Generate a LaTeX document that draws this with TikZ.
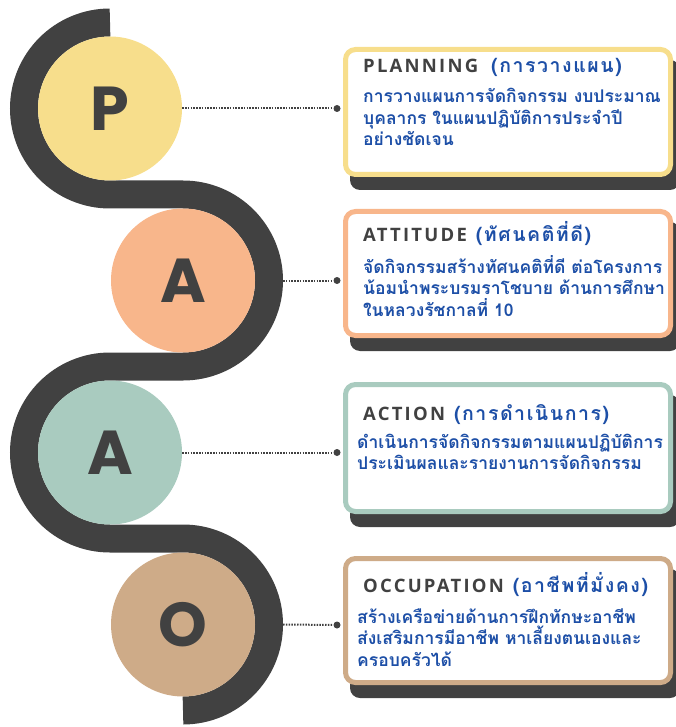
\documentclass[tikz,border=0pt]{standalone}
\usepackage{fontspec}
\newfontfamily\thaifont[Script=Thai]{Loma}
\newfontfamily\titlefont[LetterSpace=12]{Open Sans}
\newfontfamily\thaititle[Script=Thai,LetterSpace=8]{Loma}
\newfontfamily\letterfont{Poppins}
\definecolor{snakegray}{HTML}{414141}
\definecolor{colP}{HTML}{F7DE8C}
\definecolor{colA}{HTML}{F8B68B}
\definecolor{colB}{HTML}{A9CBBF}
\definecolor{colO}{HTML}{CEAB88}
\definecolor{thblue}{HTML}{1D4FA7}
\newcommand{\bodylines}[1]{\vtop{\halign{##\hfil\cr#1\crcr}}}
\newcommand{\thtitle}[1]{{\thaititle\bfseries\fontsize{19.5}{20}\selectfont\color{thblue}#1}}
\tikzset{
  snakeband/.style={draw=snakegray,line width=28pt,line cap=butt},
  bigcircle/.style={circle,inner sep=0pt,minimum size=144pt,text=snakegray,font=\letterfont\bfseries\fontsize{62}{62}\selectfont},
  dotline/.style={draw=snakegray,line width=2pt,dash pattern=on 1.5pt off 1.3pt},
  enddot/.style={circle,fill=snakegray,inner sep=0pt,minimum size=7pt},
  boxshadow/.style={fill=snakegray,rounded corners=10pt},
  infobox/.style={fill=white,line width=5pt,rounded corners=10pt},
  titletext/.style={anchor=base west,inner sep=0pt,text=snakegray,font=\titlefont\bfseries\fontsize{18.5}{20}\selectfont},
  bodytext/.style={anchor=base west,inner sep=0pt,text=thblue,font=\thaifont\bfseries\fontsize{17.5}{21.5}\selectfont}
}
\begin{document}
\begin{tikzpicture}[x=1pt,y=1pt]
\useasboundingbox (0,0) rectangle (675,-727);
% snake
\draw[snakeband] (110,-22.5) arc[start angle=90,end angle=270,radius=86]
  -- (183,-194.5) arc[start angle=90,end angle=-90,radius=86]
  -- (110,-366.5) arc[start angle=90,end angle=270,radius=86]
  -- (183,-538.5) arc[start angle=90,end angle=-90,radius=86];
% circles
\node[bigcircle,fill=colP] (cP) at (110,-108.5) {P};
\node[bigcircle,fill=colA] (cA) at (183,-280.5) {A};
\node[bigcircle,fill=colB] (cB) at (110,-452.5) {A};
\node[bigcircle,fill=colO] (cO) at (183,-624.5) {O};
\coordinate (eA) at (283,-280.5);
\coordinate (eO) at (283,-624.5);
% boxes
\foreach \t/\b/\c in {47/177/colP, 209/338/colA, 382/514/colB, 556/685/colO}{
  \fill[boxshadow] (350,-\t-13) rectangle (680,-\b-13);
  \draw[infobox,draw=\c] (345.5,-\t-2.5) rectangle (670.5,-\b+2.5);
}
% end dots
\node[enddot] (dP) at (337,-108.5) {};
\node[enddot] (dA) at (337,-280.5) {};
\node[enddot] (dB) at (337,-452.5) {};
\node[enddot] (dO) at (337,-625) {};
\draw[dotline] (cP.east) -- (dP);
\draw[dotline] (eA) -- (dA);
\draw[dotline] (cB.east) -- (dB);
\draw[dotline] (eO) -- (dO);
% titles
\node[titletext] (tP) at (363,-73) {PLANNING\hspace{13pt}\thtitle{(การวางแผน)}};
\node[titletext] (tA) at (363,-241) {ATTITUDE\hspace{9pt}\thtitle{(ทัศนคติที่ดี)}};
\node[titletext] (tB) at (363,-420) {ACTION\hspace{9pt}\thtitle{(การดำเนินการ)}};
\node[titletext] (tO) at (363,-592) {OCCUPATION\hspace{9pt}\thtitle{(อาชีพที่มั่งคง)}};
% bodies
\node[bodytext] (bP) at (363,-103) {\bodylines{การวางแผนการจัดกิจกรรม งบประมาณ\cr บุคลากร ในแผนปฏิบัติการประจำปี\cr อย่างชัดเจน}};
\node[bodytext] (bA) at (363,-273) {\bodylines{จัดกิจกรรมสร้างทัศนคติที่ดี ต่อโครงการ\cr น้อมนำพระบรมราโชบาย ด้านการศึกษา\cr ในหลวงรัชกาลที่ 10}};
\node[bodytext] (bB) at (357,-448) {\bodylines{ดำเนินการจัดกิจกรรมตามแผนปฏิบัติการ\cr ประเมินผลและรายงานการจัดกิจกรรม}};
\node[bodytext] (bO) at (357,-623) {\bodylines{สร้างเครือข่ายด้านการฝึกทักษะอาชีพ\cr ส่งเสริมการมีอาชีพ หาเลี้ยงตนเองและ\cr ครอบครัวได้}};
\end{tikzpicture}
\end{document}
